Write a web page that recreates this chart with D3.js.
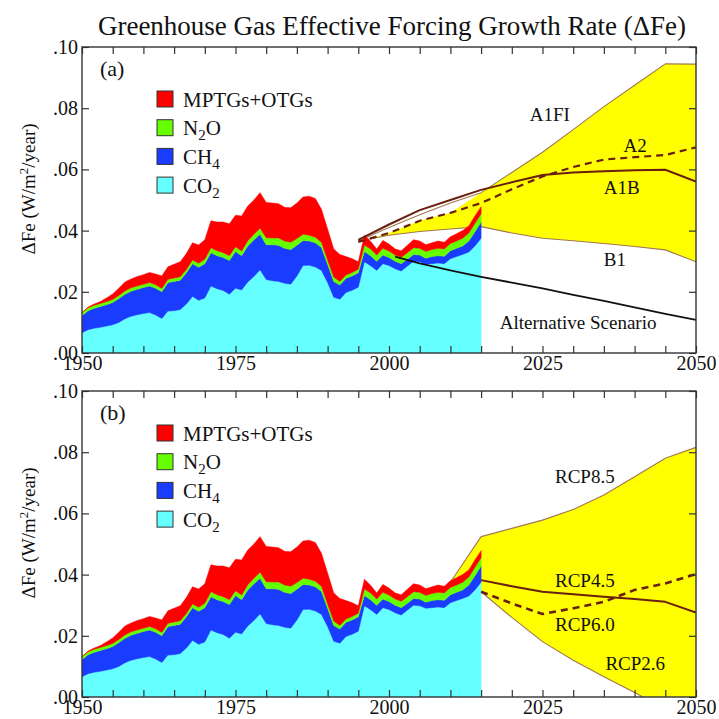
<!DOCTYPE html>
<html><head><meta charset="utf-8">
<script src="https://cdn.jsdelivr.net/npm/d3@7"></script>
<style>body{margin:0;background:#fff}</style>
</head><body>
<svg id="c" width="719" height="719" font-family="'Liberation Serif', Tinos, 'Times New Roman', 'DejaVu Serif', serif"></svg>
<script>
// ---------------- DATA ----------------
const years = d3.range(1950, 2016);
const co2 = [.0066,.0076,.0081,.0084,.0088,.0092,.0100,.0112,.0120,.0125,.0129,.0132,.0124,.0113,.0137,.0138,.0142,.0160,.0185,.0172,
  .0180,.0219,.0210,.0204,.0192,.0212,.0206,.0232,.0250,.0272,.0240,.0236,.0234,.0228,.0225,.0252,.0286,.0287,.0281,.0270,
  .0230,.0182,.0176,.0198,.0205,.0215,.0298,.0285,.0270,.0292,.0286,.0275,.0268,.0284,.0300,.0298,.0290,.0292,.0294,.0292,
  .0308,.0315,.0322,.0330,.0350,.0375];
const ch4 = [.0056,.0062,.0065,.0068,.0070,.0073,.0078,.0080,.0082,.0083,.0085,.0087,.0088,.0087,.0093,.0096,.0096,.0102,.0107,.0108,
  .0112,.0109,.0108,.0108,.0110,.0120,.0112,.0118,.0120,.0116,.0114,.0118,.0118,.0114,.0113,.0100,.0082,.0079,.0079,.0075,
  .0060,.0052,.0046,.0046,.0047,.0047,.0034,.0033,.0030,.0028,.0026,.0025,.0024,.0022,.0022,.0022,.0020,.0023,.0024,.0024,
  .0026,.0027,.0028,.0036,.0046,.0053];
const n2o = [.0010,.0010,.0010,.0010,.0010,.0010,.0010,.0011,.0011,.0011,.0011,.0011,.0011,.0011,.0011,.0011,.0011,.0011,.0012,.0013,
  .0014,.0016,.0016,.0016,.0016,.0015,.0015,.0017,.0018,.0020,.0023,.0022,.0024,.0024,.0024,.0022,.0020,.0019,.0018,.0017,
  .0014,.0014,.0012,.0011,.0011,.0012,.0021,.0022,.0020,.0022,.0021,.0020,.0021,.0022,.0022,.0022,.0022,.0023,.0024,.0024,
  .0024,.0024,.0025,.0026,.0028,.0027];
const mptg = [.0000,.0002,.0004,.0006,.0012,.0018,.0024,.0029,.0029,.0031,.0031,.0033,.0035,.0041,.0041,.0045,.0049,.0052,.0056,.0060,
  .0064,.0088,.0094,.0100,.0104,.0103,.0115,.0113,.0112,.0116,.0115,.0114,.0112,.0110,.0113,.0116,.0122,.0127,.0127,.0108,
  .0101,.0092,.0088,.0060,.0045,.0024,.0032,.0025,.0020,.0026,.0023,.0020,.0021,.0024,.0026,.0024,.0022,.0022,.0024,.0022,
  .0022,.0024,.0025,.0023,.0024,.0023];

// SRES scenarios (panel a)
const sresYears = [1995,2000,2005,2010,2015,2020,2025,2030,2035,2040,2045,2050];
const a1fi = [.0366,.0410,.0452,.0490,.0524,.0590,.0656,.0730,.0805,.0875,.0945,.0944];
const a2   = [.0363,.0392,.0432,.0458,.0490,.0535,.0577,.0608,.0632,.0640,.0647,.0672];
const a1b  = [.0370,.0420,.0467,.0500,.0533,.0558,.0582,.0590,.0594,.0597,.0599,.0560];
const b1   = [.0366,.0385,.0397,.0405,.0413,.0392,.0375,.0367,.0358,.0348,.0337,.0298];
const altYears = [2001,2005,2010,2015,2020,2025,2030,2035,2040,2045,2050];
const alt  = [.0315,.0293,.0270,.0249,.0230,.0211,.0190,.0170,.0149,.0128,.0108];

// RCP scenarios (panel b)
const rcpYears = [2010,2015,2020,2025,2030,2035,2040,2045,2050];
const rcp85 = [.0375,.0524,.0551,.0578,.0613,.0660,.0720,.0780,.0816];
const rcp26 = [.0375,.0344,.0260,.0181,.0120,.0066,.0015,-.0040,-.0095];
const rcpMidYears = [2015,2020,2025,2030,2035,2040,2045,2050];
const rcp45 = [.0382,.0362,.0344,.0336,.0328,.0320,.0311,.0276];
const rcp60 = [.0344,.0306,.0271,.0290,.0311,.0350,.0371,.0402];

const yTicks = [0,.02,.04,.06,.08,.10];
const xLabelYears = [1950,1975,2000,2025,2050];
const legendItems = [["MPTG","MPTGs+OTGs"],["N2O","N_2O"],["CH4","CH_4"],["CO2","CO_2"]];
const labelsA = [["A1FI",2026.2,.0758],["A2",2040.1,.0657],["A1B",2037.9,.0520],["B1",2036.8,.0284],["Alternative Scenario",2030.8,.0078]];
const labelsB = [["RCP8.5",2031.9,.0699],["RCP4.5",2031.9,.0359],["RCP6.0",2031.9,.0216],["RCP2.6",2040.1,.0088]];

// ---------------- DRAW ----------------
const FONT = "'Liberation Serif', Tinos, 'Times New Roman', 'DejaVu Serif', serif";
const colors = {CO2:"#66ffff", CH4:"#1a3cff", N2O:"#66ff00", MPTG:"#ff0000"};
const keys = ["CO2","CH4","N2O","MPTG"];
const rows = years.map((yr,i)=>({year:yr, CO2:co2[i], CH4:ch4[i], N2O:n2o[i], MPTG:mptg[i]}));
const stacked = d3.stack().keys(keys)(rows);

const svg = d3.select("#c");
const x = d3.scaleLinear([1950,2050],[82,696]);
const brown = "#6a1f10", edge = "#a07850";
const fmt = d => d3.format(".2f")(d).replace(/^0/,"");

function txt(sel){ return sel.append("text").attr("font-family",FONT).attr("fill","#111"); }

txt(svg).attr("x",392).attr("y",35).attr("text-anchor","middle")
  .attr("font-size",27).text("Greenhouse Gas Effective Forcing Growth Rate (\u0394Fe)");

function panel(id, top, bottom, legendOffset, tag){
  const y = d3.scaleLinear([0,0.10],[bottom,top]);
  const g = svg.append("g");
  g.append("clipPath").attr("id","clip"+id).append("rect")
    .attr("x",x(1950)).attr("y",top).attr("width",x(2050)-x(1950)).attr("height",bottom-top);
  const plot = g.append("g").attr("clip-path",`url(#clip${id})`);
  return {y,g,plot,top,bottom,legendOffset,tag};
}

function drawStack(p){
  const area = d3.area().x(d=>x(d.data.year)).y0(d=>p.y(d[0])).y1(d=>p.y(d[1]));
  p.plot.selectAll(null).data(stacked).join("path")
    .attr("d",area).attr("fill",d=>colors[d.key]).attr("stroke",d=>colors[d.key]).attr("stroke-width",0.5);
}

function line(p, xs, ys, color, width, dash){
  const l = d3.line().x(d=>x(d[0])).y(d=>p.y(d[1]));
  p.plot.append("path").attr("d",l(xs.map((v,i)=>[v,ys[i]])))
    .attr("fill","none").attr("stroke",color).attr("stroke-width",width)
    .attr("stroke-dasharray",dash||null).attr("stroke-linejoin","round");
}

function band(p, xs, up, lo){
  const a = d3.area().x(d=>x(d[0])).y0(d=>p.y(d[2])).y1(d=>p.y(d[1]));
  p.plot.append("path").attr("d",a(xs.map((v,i)=>[v,up[i],lo[i]]))).attr("fill","#ffff00");
}

function frame(p){
  const g = p.g, y = p.y;
  const tickYears = d3.range(1950,2051,5);
  const bAx = d3.axisBottom(x).tickValues(tickYears).tickSizeInner(-7).tickSizeOuter(0).tickPadding(3)
      .tickFormat(d=>xLabelYears.includes(d)?String(d):"");
  const ga = g.append("g").attr("transform",`translate(0,${p.bottom})`).call(bAx);
  ga.attr("font-family",FONT).attr("font-size",20);
  ga.selectAll("text").attr("fill","#111");
  const tAx = d3.axisTop(x).tickValues(tickYears).tickSizeInner(-7).tickSizeOuter(0).tickFormat("");
  g.append("g").attr("transform",`translate(0,${p.top})`).call(tAx);
  const lAx = d3.axisLeft(y).tickValues(yTicks).tickSizeInner(-7).tickSizeOuter(0).tickPadding(4).tickFormat(fmt);
  const gl = g.append("g").attr("transform",`translate(${x(1950)},0)`).call(lAx);
  gl.attr("font-family",FONT).attr("font-size",20);
  gl.selectAll("text").attr("fill","#111");
  const rAx = d3.axisRight(y).tickValues(yTicks).tickSizeInner(-7).tickSizeOuter(0).tickFormat("");
  g.append("g").attr("transform",`translate(${x(2050)},0)`).call(rAx);
  g.selectAll(".domain").remove();
  g.selectAll(".tick line").attr("stroke","#333").attr("stroke-width",1.2);
  g.append("rect").attr("x",x(1950)).attr("y",p.top).attr("width",x(2050)-x(1950)).attr("height",p.bottom-p.top)
    .attr("fill","none").attr("stroke","#333").attr("stroke-width",1.4);
  // y title
  const cy = (p.top+p.bottom)/2 - 11;
  const t = txt(g).attr("transform",`translate(35,${cy}) rotate(-90)`).attr("text-anchor","middle")
    .attr("font-size",19);
  t.append("tspan").text("\u0394Fe (W/m");
  t.append("tspan").attr("dy",-7).attr("font-size",13).text("2");
  t.append("tspan").attr("dy",7).text("/year)");
  // panel tag
  txt(g).attr("x",100).attr("y",p.top+29).attr("font-size",22).text(p.tag);
  // legend
  legendItems.forEach((it,i)=>{
    const yy = p.top + p.legendOffset + i*28.7;
    g.append("rect").attr("x",157).attr("y",yy).attr("width",16).attr("height",16)
      .attr("fill",colors[it[0]]).attr("stroke","#333").attr("stroke-width",1);
    const tx = txt(g).attr("x",183).attr("y",yy+15.5).attr("font-size",21);
    const parts = it[1].split("_");
    tx.append("tspan").text(parts[0]);
    if(parts.length>1){
      tx.append("tspan").attr("dy",5).attr("font-size",15).text(parts[1][0]);
      if(parts[1].length>1) tx.append("tspan").attr("dy",-5).text(parts[1].slice(1));
    }
  });
}

function labels(p, arr){
  arr.forEach(l=>{
    txt(p.g).attr("x",x(l[1])).attr("y",p.y(l[2])).attr("text-anchor","middle")
      .attr("font-size",19).text(l[0]);
  });
}

// Panel (a)
const pa = panel("a",47,353,44,"(a)");
const yellowTopA = sresYears.map((yr,i)=> yr<=2010 ? a2[i] : a1fi[i]);
band(pa, sresYears, yellowTopA, b1);
line(pa, sresYears, a1fi, edge, 1.1);
line(pa, sresYears, b1, edge, 1.1);
drawStack(pa);
line(pa, altYears, alt, "#111", 1.8);
line(pa, sresYears, a2, brown, 2.2, "7,5");
line(pa, sresYears, a1b, brown, 2);
frame(pa);
labels(pa, labelsA);

// Panel (b)
const pb = panel("b",391,697,34,"(b)");
band(pb, rcpYears, rcp85, rcp26);
line(pb, rcpYears, rcp85, edge, 1.1);
line(pb, rcpYears, rcp26, edge, 1.1);
drawStack(pb);
line(pb, rcpMidYears, rcp45, brown, 2);
line(pb, rcpMidYears, rcp60, brown, 2.6, "7,5");
frame(pb);
labels(pb, labelsB);
</script>
</body></html>
